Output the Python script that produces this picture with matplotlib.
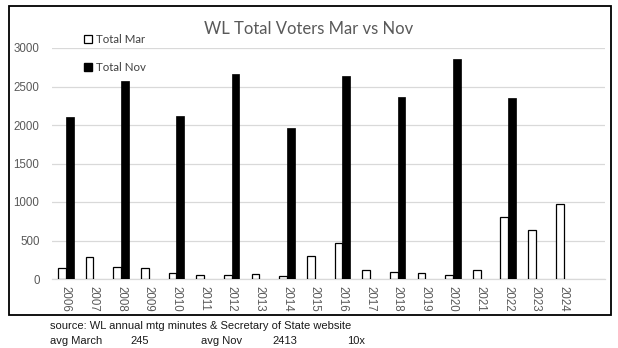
import matplotlib
matplotlib.use("Agg")
import matplotlib.pyplot as plt
import numpy as np
from matplotlib.patches import Rectangle
from matplotlib.lines import Line2D

years = ["2006", "2007", "2008", "2009", "2010", "2011", "2012", "2013", "2014",
         "2015", "2016", "2017", "2018", "2019", "2020", "2021", "2022", "2023",
         "2024", ""]
total_mar = [140, 285, 152, 140, 74, 48, 48, 61, 35, 295, 469, 117, 87, 74, 48,
             117, 803, 634, 977, np.nan]
total_nov = [2110, np.nan, 2565, np.nan, 2122, np.nan, 2656, np.nan, 1966, np.nan,
             2634, np.nan, 2370, np.nan, 2852, np.nan, 2357, np.nan, np.nan, np.nan]
y_ticks = [0, 500, 1000, 1500, 2000, 2500, 3000]

title = "WL Total Voters Mar vs Nov"
source_note = "source: WL annual mtg minutes & Secretary of State website"
avg_march, avg_nov, ratio = "245", "2413", "10x"

W, H = 618, 348
fig = plt.figure(figsize=(W / 100, H / 100), dpi=100)
fig.patch.set_facecolor("white")

ax = fig.add_axes([52 / W, 1 - 279 / H, (605 - 52) / W, (279 - 48) / H])
x = np.arange(len(years))
bw = 0.28
ax.bar(x - bw / 2, total_mar, bw, color="white", edgecolor="black", linewidth=0.9,
       label="Total Mar", zorder=3)
ax.bar(x + bw / 2, total_nov, bw, color="black", edgecolor="black", linewidth=0.5,
       label="Total Nov", zorder=3)

ax.set_xlim(-0.5, len(years) - 0.5)
ax.set_ylim(0, 3000)
ax.set_yticks(y_ticks)
ax.set_yticklabels([str(v) for v in y_ticks], fontfamily="Liberation Sans",
                   fontsize=8.3, color="#595959")
ax.set_xticks(x)
ax.set_xticklabels(years, rotation=-90, fontfamily="Liberation Sans",
                   fontsize=8.3, color="#595959")
ax.tick_params(axis="both", length=0)
ax.tick_params(axis="y", pad=9)
ax.tick_params(axis="x", pad=5)
ax.grid(axis="y", color="#d9d9d9", linewidth=0.9, zorder=0)
for s in ["top", "right", "left"]:
    ax.spines[s].set_visible(False)
ax.spines["bottom"].set_color("#d9d9d9")
ax.spines["bottom"].set_linewidth(0.9)

fig.text(309 / W, 1 - 29 / H, title, ha="center", va="center",
         fontfamily="Lato", fontsize=12, color="#595959")

handles = [Line2D([], [], marker="s", linestyle="none", markersize=5.5,
                  markerfacecolor="white", markeredgecolor="black",
                  markeredgewidth=0.9),
           Line2D([], [], marker="s", linestyle="none", markersize=5.5,
                  markerfacecolor="black", markeredgecolor="black")]
fig.legend(handles, ["Total Mar", "Total Nov"], loc="upper left",
           bbox_to_anchor=(85 / W, 1 - 34 / H), frameon=False,
           prop={"family": "Lato", "size": 8.3}, labelcolor="#404040",
           handlelength=0.6, handletextpad=0.35, labelspacing=1.45,
           borderaxespad=0, borderpad=0)

fig.add_artist(Rectangle((9 / W, 1 - 315 / H), (611 - 9) / W, (315 - 6) / H,
                         transform=fig.transFigure, fill=False,
                         edgecolor="black", linewidth=1.3))

txt = dict(fontfamily="Liberation Sans", fontsize=8.0, color="#1a1a1a",
           va="center", ha="left")
fig.text(50 / W, 1 - 326 / H, source_note, **txt)
fig.text(50 / W, 1 - 341 / H, "avg March", **txt)
fig.text(130 / W, 1 - 341 / H, avg_march, **txt)
fig.text(201 / W, 1 - 341 / H, "avg Nov", **txt)
fig.text(272 / W, 1 - 341 / H, avg_nov, **txt)
fig.text(347 / W, 1 - 341 / H, ratio, **txt)

fig.savefig("out.png", dpi=100)
